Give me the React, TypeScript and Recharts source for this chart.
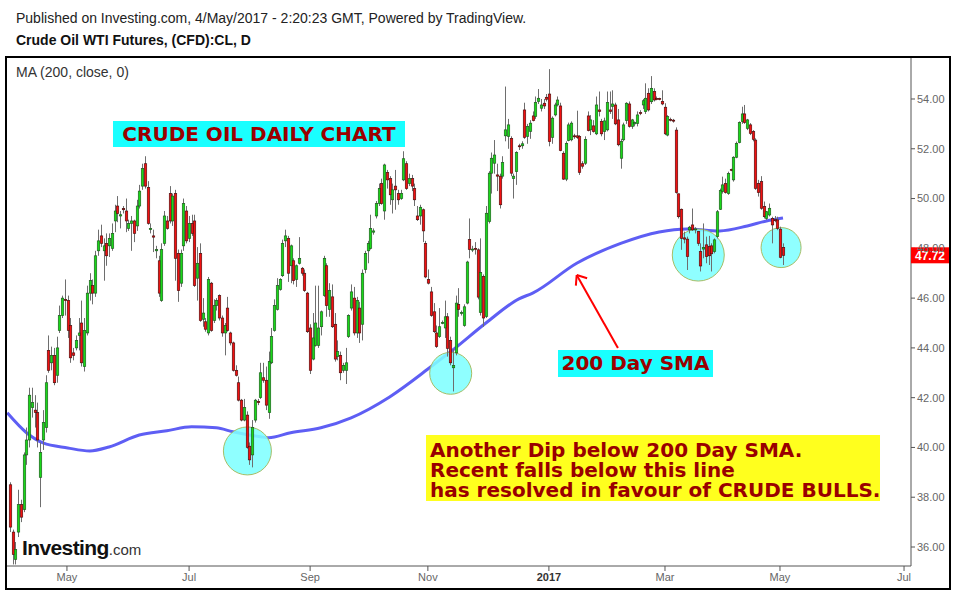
import React from 'react';
import { ComposedChart, Bar, Line, Scatter, XAxis, YAxis, ReferenceLine } from 'recharts';

// [open, high, low, close] per trading day, Apr 2016 -> May 2017
const ohlc: [number, number, number, number][] = [
  [38.5,38.6,36.6,36.8],[36.6,36.7,35.3,35.7],[35.5,36.2,35.3,35.9],[36.6,38.3,36.4,37.7],[37.7,37.9,37.0,37.2],
  [37.5,39.8,37.4,39.7],[39.7,40.8,39.3,40.3],[40.3,42.4,40.0,42.1],[41.6,42.4,41.2,41.8],[41.5,42.1,40.8,41.4],
  [41.4,41.8,40.0,40.3],[38.8,40.2,37.6,39.8],[40.3,41.5,39.9,41.0],[40.8,42.9,40.6,42.6],[43.9,44.5,43.0,43.1],
  [43.4,44.05,43.1,43.7],[43.7,44.0,42.5,42.6],[42.9,44.45,42.6,44.0],[44.7,45.7,44.6,45.3],[45.3,46.1,45.2,46.0],
  [45.95,46.75,45.3,45.9],[45.9,46.1,44.4,44.7],[44.9,45.2,43.4,43.6],[43.8,44.0,43.5,43.7],[44.0,44.5,43.9,44.3],
  [44.5,45.2,43.9,44.6],[45.0,45.9,43.25,43.4],[43.25,45.2,43.05,44.7],[44.6,46.5,44.5,46.2],[46.2,47.0,45.9,46.7],
  [46.5,46.75,45.75,46.2],[46.2,47.9,46.05,47.7],[47.9,48.75,47.7,48.3],[48.5,48.95,48.05,48.2],[47.9,48.4,46.7,48.1],
  [48.2,48.6,47.3,47.7],[48.1,48.6,47.65,48.4],[48.0,49.0,47.9,48.6],[49.1,49.75,48.65,49.5],[49.7,50.1,49.05,49.4],
  [49.3,49.5,48.8,49.35],[49.6,49.7,49.4,49.55],[49.5,50.0,48.65,49.1],[48.8,49.15,48.7,49.0],[49.0,49.3,47.9,49.1],
  [49.1,49.15,48.25,48.6],[48.9,49.95,48.7,49.7],[49.7,50.55,49.6,50.3],[50.5,51.4,50.35,51.2],[51.4,51.7,50.4,50.5],
  [50.45,50.7,48.95,49.0],[48.75,49.0,48.6,48.8],[48.5,48.75,47.85,48.45],[47.9,48.1,47.6,47.95],[47.5,47.7,46.05,46.2],
  [45.9,48.2,45.85,47.95],[48.2,49.5,48.1,49.3],[49.1,49.3,48.75,48.8],[50.2,50.5,49.0,49.1],[49.1,50.2,48.9,50.1],
  [50.2,50.35,46.7,47.6],[47.8,47.95,45.85,46.3],[46.6,47.95,46.45,47.8],[48.1,50.0,47.9,49.8],[49.5,49.7,48.2,48.3],
  [48.4,49.3,48.25,49.0],[49.0,49.35,48.5,48.6],[49.1,49.35,46.45,46.5],[46.8,48.05,45.9,47.4],[47.8,48.2,45.05,45.1],
  [45.15,46.0,44.85,45.4],[45.05,45.2,44.65,44.75],[44.6,46.85,44.5,46.75],[46.6,46.65,44.65,44.7],[45.1,45.95,45.0,45.7],
  [45.7,46.0,45.5,45.9],[46.1,46.15,45.1,45.2],[45.2,45.3,44.45,44.6],[44.6,45.0,43.7,44.9],[45.6,46.05,44.65,44.7],
  [44.6,44.65,44.1,44.2],[44.2,44.25,43.05,43.1],[43.1,43.3,42.85,42.9],[42.6,42.85,41.85,41.9],[41.9,41.95,41.05,41.1],
  [41.1,41.95,41.05,41.6],[41.3,41.45,39.95,40.0],[40.05,40.2,39.3,39.5],[39.7,41.1,39.2,40.8],[41.1,41.95,41.0,41.9],
  [41.85,41.95,41.7,41.8],[42.0,43.4,41.95,43.0],[42.8,43.4,42.6,42.7],[42.7,43.25,41.5,41.7],[41.4,43.85,41.15,43.45],
  [43.4,44.8,43.35,44.45],[44.7,45.95,44.65,45.7],[45.55,46.8,45.5,46.5],[46.35,46.8,46.3,46.75],[46.9,48.35,46.85,48.2],
  [48.3,48.75,48.05,48.5],[48.4,48.5,46.65,47.0],[47.3,48.15,46.6,48.1],[47.5,47.6,46.55,46.7],[46.75,47.35,46.45,47.3],
  [47.4,48.45,47.35,47.6],[47.2,47.25,46.9,47.0],[47.0,47.15,46.25,46.3],[46.2,46.25,44.6,44.65],[44.8,44.95,42.95,43.1],
  [43.55,45.4,43.5,44.4],[44.1,46.5,44.05,45.0],[44.1,46.5,44.0,44.8],[44.85,45.5,44.5,45.45],[46.1,47.7,46.05,47.6],
  [47.3,47.4,45.25,45.7],[45.55,46.6,45.25,46.3],[46.05,46.55,44.8,44.85],[44.95,45.4,43.45,43.55],[43.65,44.3,43.5,43.85],
  [43.7,43.85,42.7,43.0],[43.1,43.4,43.0,43.3],[43.1,44.0,42.55,43.4],[44.45,45.35,44.4,45.3],[45.6,46.55,45.5,46.25],
  [46.0,46.45,44.5,44.6],[44.6,46.05,44.4,45.9],[45.6,45.85,44.2,44.6],[44.95,47.15,44.3,47.0],[47.15,47.9,47.0,47.8],
  [47.9,48.3,47.4,48.2],[48.0,49.35,47.95,48.8],[48.65,48.8,48.55,48.7],[49.3,49.9,49.2,49.8],[49.8,50.6,49.7,50.4],
  [50.6,50.8,49.75,49.8],[49.5,51.4,49.15,51.35],[51.05,51.15,50.4,50.75],[50.8,50.9,49.75,50.15],[49.95,50.6,49.4,50.35],
  [50.5,51.15,49.55,50.35],[50.2,50.35,49.75,49.95],[50.0,50.35,49.95,50.2],[50.75,51.9,50.7,51.6],[51.4,51.5,50.35,50.4],
  [50.6,51.0,50.5,50.8],[50.8,50.95,50.3,50.5],[50.4,50.6,49.7,49.95],[49.3,49.7,49.1,49.15],[49.3,49.75,48.95,49.65],
  [49.55,49.6,48.25,48.7],[48.2,48.3,46.8,46.85],[46.75,47.15,46.55,46.6],[46.25,46.45,45.25,45.3],[45.45,45.8,44.6,44.65],
  [44.6,44.9,44.0,44.05],[44.45,45.6,44.4,44.85],[45.0,45.1,44.95,45.02],[44.8,45.9,44.4,45.25],[45.25,45.4,43.65,43.98],
  [44.3,44.45,43.3,43.4],[43.2,43.95,42.25,43.3],[43.8,46.1,43.7,45.8],[45.75,46.4,45.25,45.55],[45.4,45.5,45.3,45.42],
  [44.9,45.75,44.85,45.65],[45.8,47.5,45.75,47.45],[48.35,49.2,47.6,47.95],[47.95,48.1,47.85,47.97],[48.0,48.25,47.75,47.98],
  [47.94,48.0,45.95,46.04],[45.42,48.4,45.3,47.03],[46.87,46.95,44.85,45.2],[45.26,49.7,45.2,49.41],[49.08,51.1,49.0,51.02],
  [51.02,51.85,50.2,51.62],[51.42,52.35,51.0,51.75],[50.95,51.4,50.3,50.9],[50.9,51.0,49.6,49.75],[50.9,51.7,50.8,51.45],
  [52.52,54.5,52.3,52.76],[52.5,53.2,52.0,52.96],[52.42,52.5,50.9,51.02],[50.8,51.0,50.0,50.9],[51.08,51.9,50.55,51.85],
  [52.12,52.2,51.95,52.08],[52.12,52.3,52.0,52.2],[53.56,53.85,52.4,52.46],[52.5,53.0,52.2,52.9],[52.7,53.15,52.4,53.03],
  [53.32,53.5,53.1,53.13],[53.3,54.1,53.2,53.86],[53.9,54.4,53.8,54.03],[53.63,54.0,53.5,53.76],[53.83,54.0,53.6,53.72],
  [54.07,54.2,53.9,53.99],[54.2,55.2,52.1,52.29],[52.46,53.3,52.2,53.23],[53.36,53.85,53.3,53.76],[53.76,54.1,53.7,53.96],
  [53.72,53.85,51.9,51.93],[51.82,51.9,50.75,50.78],[50.78,52.3,50.7,52.22],[52.33,53.05,52.3,52.96],[52.36,53.1,52.3,53.03],
  [52.52,52.6,52.4,52.5],[52.52,53.53,52.4,52.45],[52.49,52.55,50.95,51.05],[51.4,51.5,51.2,51.3],[51.42,52.5,51.35,52.38],
  [53.32,53.5,52.7,52.73],[52.76,53.35,52.55,53.16],[52.92,53.15,52.65,52.69],[52.6,54.1,52.55,53.76],[53.56,54.3,53.3,53.5],
  [53.1,53.2,52.5,52.6],[52.69,53.25,52.35,53.12],[52.76,54.3,52.7,53.86],[53.56,54.3,53.4,53.5],[53.7,54.35,53.2,53.8],
  [53.76,53.85,52.95,53.0],[53.16,53.6,52.1,52.16],[51.62,52.4,51.2,52.29],[52.36,53.05,52.3,52.96],[53.13,53.87,53.0,53.83],
  [53.8,53.9,52.85,52.9],[52.9,53.2,52.8,53.16],[53.0,53.1,52.9,53.05],[53.02,53.5,52.9,53.36],[53.45,53.55,53.35,53.42],
  [53.76,54.0,53.6,53.93],[53.49,54.63,53.4,54.03],[54.23,54.43,53.5,53.56],[53.89,54.92,53.8,54.43],[54.3,54.43,53.9,53.96],
  [54.02,54.1,53.95,54.0],[54.02,54.05,53.95,54.0],[53.9,54.35,53.75,53.8],[53.67,53.83,52.55,52.6],[52.55,53.35,52.5,53.29],
  [53.18,53.25,53.1,53.16],[53.15,53.2,53.05,53.13],[52.75,52.86,50.2,50.24],[50.19,50.2,49.2,49.27],[49.57,49.6,47.94,48.4],
  [48.42,48.67,48.2,48.37],[48.37,48.47,47.13,47.67],[48.74,48.9,48.6,48.85],[48.94,49.6,48.7,48.74],[48.77,48.85,48.6,48.78],
  [48.67,48.7,48.1,48.2],[47.87,48.2,47.07,47.29],[47.97,49.0,47.6,48.04],[48.14,48.47,47.4,47.67],[48.07,48.5,47.33,47.7],
  [48.1,48.2,47.07,47.78],[47.87,48.4,47.8,48.34],[48.47,49.54,48.4,49.47],[49.57,50.4,49.54,50.32],[50.28,50.88,50.2,50.55],
  [50.6,50.8,50.2,50.24],[50.2,51.08,50.15,51.0],[51.17,51.2,51.1,51.15],[50.75,51.7,50.68,51.66],[51.66,52.29,51.62,52.22],
  [52.25,53.1,52.22,53.05],[53.09,53.69,53.0,53.4],[53.4,53.76,53.0,53.05],[52.82,53.2,52.75,53.16],[52.96,53.03,52.55,52.62],
  [52.69,52.75,52.3,52.38],[52.35,52.42,50.35,50.41],[50.61,50.75,50.08,50.24],[50.68,50.9,49.55,49.61],[49.68,49.88,49.2,49.27],
  [49.2,49.5,49.14,49.47],[49.34,49.8,49.28,49.61],[49.2,49.27,48.2,48.94],[49.15,49.3,49.05,49.14],[49.14,49.27,48.73,48.8],
  [48.77,48.87,47.6,47.64],[48.04,48.2,47.33,47.72],
];

// 200-day SMA, read at sample bars
const maIdx = [-1, 6, 12, 21, 29, 36, 47, 57, 66, 75, 81, 91, 94, 102, 113, 124, 138, 153, 161, 173, 185, 190, 206, 222, 236, 246, 258, 268, 275, 281];
const maVal = [41.39, 40.59, 40.18, 39.98, 39.86, 40.02, 40.5, 40.67, 40.83, 40.79, 40.63, 40.43, 40.39, 40.59, 40.79, 41.19, 42.03, 43.24, 43.92, 45.0, 45.97, 46.2, 47.4, 48.2, 48.66, 48.78, 48.7, 48.9, 49.1, 49.22];

const xTickIdx = [20.7, 65.1, 109.1, 151.9, 195.9, 238.1, 279.9, 325.0];
const xTickLabels = ['May', 'Jul', 'Sep', 'Nov', '2017', 'Mar', 'May', 'Jul'];
const yTicks = [36, 38, 40, 42, 44, 46, 48, 50, 52, 54];
const lastPrice = 47.72;

// highlight circles: bar index, price, radius(px)
const circleX = [86.3, 160.2, 250.2, 280.3];
const circleY = [39.86, 42.98, 47.73, 48.03];
const circleR = [24, 21, 26, 20];

// arrow: tail, tip, barbs (bar index, price)
const arrowTail = { x: 221.0, y: 44.0 };
const arrowTip = { x: 206.0, y: 46.93 };
const arrowBarbs = [{ x: 205.7, y: 46.5 }, { x: 209.8, y: 46.8 }];

const data = ohlc.map((t, i) => ({ i, o: t[0], h: t[1], l: t[2], c: t[3] }));
const maData = maIdx.map((i, k) => ({ i, ma: maVal[k] }));
const circleData = circleX.map((i, k) => ({ i, cy: circleY[k], r: circleR[k] }));

const FONT = '"Liberation Sans", Arial, sans-serif';
const BOLDFONT = '"DejaVu Sans", Verdana, sans-serif';

const Candle = (props: any) => {
  const { x, y, width, height, payload } = props;
  if (!payload || x == null || y == null) return null;
  const { o, h, l, c } = payload;
  const top = Math.min(y, y + height);
  const bot = Math.max(y, y + height);
  const k = h > l ? (bot - top) / (h - l) : 0;
  const Y = (v: number) => top + (h - v) * k;
  const cx = Math.round(x + width / 2);
  const up = c >= o;
  const bTop = Y(Math.max(o, c));
  const bBot = Y(Math.min(o, c));
  return (
    <g>
      <line x1={cx + 0.5} x2={cx + 0.5} y1={Y(h)} y2={Y(l)} stroke="#6e6e6e" strokeWidth={1} />
      <rect
        x={cx - 0.75}
        y={bTop}
        width={2.5}
        height={Math.max(1, bBot - bTop)}
        fill={up ? '#19d819' : '#f21010'}
        stroke={up ? '#1a4f1a' : '#3f0a0a'}
        strokeWidth={0.6}
      />
    </g>
  );
};

const CircleMark = (props: any) => {
  const { cx, cy, payload } = props;
  if (cx == null || cy == null) return null;
  return <circle cx={cx} cy={cy} r={payload.r} fill="#80ffff" fillOpacity={0.88} stroke="#a6bd66" strokeWidth={1} />;
};

const XTick = (props: any) => {
  const { x, y, payload } = props;
  const k = xTickIdx.indexOf(payload.value);
  const label = xTickLabels[k] ?? '';
  const bold = label === '2017';
  return (
    <text x={x} y={y + 8} textAnchor="middle" fontSize={11} fontFamily={FONT}
      fill={bold ? '#333' : '#666'} fontWeight={bold ? 'bold' : 'normal'}>
      {label}
    </text>
  );
};

const PriceTag = (props: any) => {
  const vb = props.viewBox || {};
  const x0 = (vb.x ?? 0) + (vb.width ?? 0);
  const yy = vb.y ?? 0;
  return (
    <g>
      <rect x={x0} y={yy - 8} width={38} height={16} fill="#ff0000" />
      <text x={x0 + 19} y={yy + 4.5} textAnchor="middle" fontSize={12} fontWeight="bold" fill="#fff" fontFamily={FONT}>
        {lastPrice.toFixed(2)}
      </text>
    </g>
  );
};

export default function App() {
  return (
    <div style={{ position: 'absolute', left: 0, top: 0, width: 955, height: 591, background: '#fff', overflow: 'hidden', fontFamily: FONT }}>
      <div style={{ position: 'absolute', left: 16, top: 10, fontSize: 14, lineHeight: '16px', color: '#222', whiteSpace: 'nowrap' }}>
        Published on Investing.com, 4/May/2017 - 2:20:23 GMT, Powered by TradingView.
      </div>
      <div style={{ position: 'absolute', left: 16, top: 32, fontSize: 14, lineHeight: '16px', fontWeight: 'bold', color: '#111', whiteSpace: 'nowrap' }}>
        Crude Oil WTI Futures, (CFD):CL, D
      </div>
      <div style={{ position: 'absolute', left: 0, top: 0 }}>
        <ComposedChart width={955} height={591} data={data} margin={{ top: 58, right: 0, bottom: 0, left: 7 }}>
          <XAxis
            type="number"
            dataKey="i"
            domain={[-1.09, 327.53]}
            allowDataOverflow
            ticks={xTickIdx}
            tick={<XTick />}
            height={25}
            tickSize={5}
            axisLine={{ stroke: '#555' }}
            tickLine={{ stroke: '#555' }}
          />
          <YAxis
            orientation="right"
            type="number"
            domain={[35.237, 55.647]}
            allowDataOverflow
            ticks={yTicks}
            width={44}
            tickSize={4}
            tickMargin={2}
            tickFormatter={(v: number) => v.toFixed(2)}
            tick={{ fontSize: 11, fill: '#666', fontFamily: FONT }}
            axisLine={{ stroke: '#555' }}
            tickLine={{ stroke: '#555' }}
          />
          <Line data={maData} dataKey="ma" type="monotone" stroke="#5e5ef4" strokeWidth={3} dot={false} isAnimationActive={false} zIndex={100} />
          <Scatter data={circleData} dataKey="cy" shape={CircleMark} isAnimationActive={false} zIndex={200} />
          <Bar dataKey={(d: any) => [d.l, d.h]} shape={Candle} barSize={3} isAnimationActive={false} zIndex={300} />
          <ReferenceLine segment={[arrowTail, arrowTip]} stroke="#ff0000" strokeWidth={2} zIndex={400} />
          {arrowBarbs.map((b, k) => (
            <ReferenceLine key={k} segment={[arrowTip, b]} stroke="#ff0000" strokeWidth={2} zIndex={400} />
          ))}
          <ReferenceLine y={lastPrice} stroke="none" label={<PriceTag />} zIndex={500} />
        </ComposedChart>
      </div>
      <div style={{ position: 'absolute', left: 5, top: 56, width: 946, height: 534, border: '2px solid #000', boxSizing: 'border-box', pointerEvents: 'none' }} />
      <div style={{ position: 'absolute', left: 16, top: 64, fontSize: 14, lineHeight: '16px', color: '#333', whiteSpace: 'nowrap' }}>
        MA (200, close, 0)
      </div>
      <div style={{ position: 'absolute', left: 113, top: 121, width: 292, height: 26, background: '#19ffff', color: '#9b0000', fontFamily: BOLDFONT, fontWeight: 'bold', fontSize: 20, lineHeight: '26px', textAlign: 'center', whiteSpace: 'nowrap' }}>
        CRUDE OIL DAILY CHART
      </div>
      <div style={{ position: 'absolute', left: 558, top: 350, width: 155, height: 27, background: '#19ffff', color: '#9b0000', fontFamily: BOLDFONT, fontWeight: 'bold', fontSize: 20, lineHeight: '27px', textAlign: 'center', whiteSpace: 'nowrap' }}>
        200 Day SMA
      </div>
      <div style={{ position: 'absolute', left: 426, top: 435, width: 454, height: 66, background: '#ffff1e', color: '#990000', fontFamily: BOLDFONT, fontWeight: 'bold', fontSize: 20, lineHeight: '20px', boxSizing: 'border-box', padding: '5px 0 0 4px', whiteSpace: 'nowrap' }}>
        <div>Another Dip below 200 Day SMA.</div>
        <div>Recent falls below this line</div>
        <div>has resolved in favour of CRUDE BULLS.</div>
      </div>
      <div style={{ position: 'absolute', left: 22, top: 536, whiteSpace: 'nowrap', color: '#111', lineHeight: '24px' }}>
        <span style={{ fontSize: 21, fontWeight: 'bold', letterSpacing: '-0.6px' }}>Investing</span>
        <span style={{ fontSize: 15, color: '#333' }}>.com</span>
      </div>
    </div>
  );
}
